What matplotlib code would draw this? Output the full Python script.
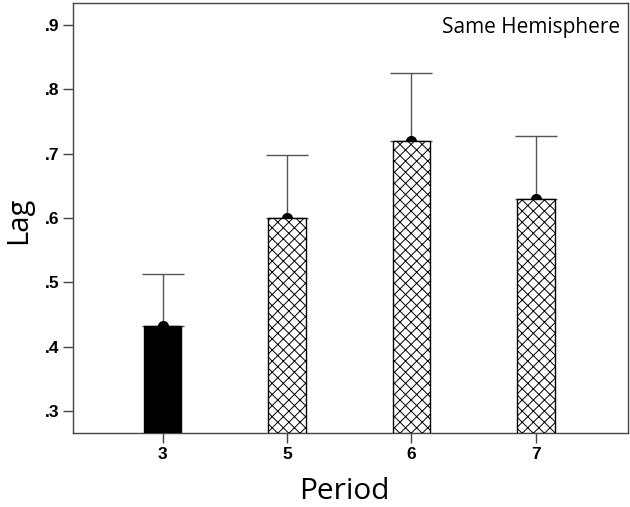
import matplotlib.pyplot as plt
import matplotlib as mpl

# values
periods = ["3", "5", "6", "7"]
lag_means = [0.432, 0.600, 0.720, 0.630]
lag_upper = [0.513, 0.698, 0.826, 0.727]
yticks = [0.3, 0.4, 0.5, 0.6, 0.7, 0.8, 0.9]
ytick_labels = [".3", ".4", ".5", ".6", ".7", ".8", ".9"]

mpl.rcParams["hatch.linewidth"] = 0.7

fig = plt.figure(figsize=(6.3, 5.07), dpi=100)
ax = fig.add_axes([73 / 630, 1 - 433 / 507, 555 / 630, 430 / 507])

x = list(range(len(periods)))
base = 0.266
err = [u - m for u, m in zip(lag_upper, lag_means)]

for i, (m, e) in enumerate(zip(lag_means, err)):
    if i == 0:
        ax.bar(i, m - base, bottom=base, width=0.3, color="black",
               edgecolor="black", linewidth=1, zorder=3)
    else:
        ax.bar(i, m - base, bottom=base, width=0.3, color="white",
               edgecolor="black", hatch="xxx", linewidth=1, zorder=3)
    ax.errorbar(i, m, yerr=[[0], [e]], fmt="none", ecolor="#555555",
                elinewidth=1, capsize=15, capthick=1, zorder=2)
    # dot sits behind the bar, so only its upper half shows
    ax.plot(i, m, "o", color="black", markersize=7, zorder=2)

ax.set_xlim(-0.72, 3.74)
ax.set_ylim(base, 0.934)
ax.set_xticks(x)
ax.set_xticklabels(periods, fontsize=12.5, fontweight="bold", family="Liberation Sans")
ax.set_yticks(yticks)
ax.set_yticklabels(ytick_labels, fontsize=12.5, fontweight="bold", family="Liberation Sans")
ax.tick_params(direction="out", length=7, width=1, color="#444444", pad=3)

for s in ax.spines.values():
    s.set_color("#444444")
    s.set_linewidth(1)

ax.set_ylabel("Lag", fontsize=21, family="Open Sans")
ax.yaxis.set_label_coords(-0.072, 0.495)
fig.text(344 / 630, 1 / 507, "Period", ha="center", va="bottom",
         fontsize=21.5, family="Open Sans")
ax.text(0.985, 0.942, "Same Hemisphere", transform=ax.transAxes, ha="right",
        va="center", fontsize=15, family="Open Sans")

fig.savefig("out.png", dpi=100)
